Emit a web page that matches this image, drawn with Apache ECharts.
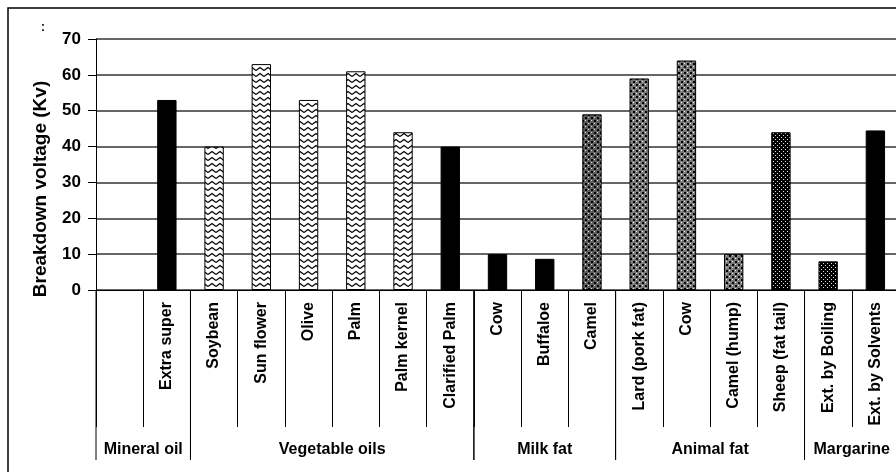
<!DOCTYPE html>
<html>
<head>
<meta charset="utf-8">
<script src="https://cdn.jsdelivr.net/npm/echarts@6/dist/echarts.min.js"></script>
<style>html,body{margin:0;padding:0;background:#fff;}#c{width:896px;height:472px;}</style>
</head>
<body>
<div id="c"></div>
<script>
// ---- data ----
var categories = ['', 'Extra super', 'Soybean', 'Sun flower', 'Olive', 'Palm', 'Palm kernel', 'Clarified Palm',
  'Cow', 'Buffaloe', 'Camel', 'Lard (pork fat)', 'Cow', 'Camel (hump)', 'Sheep (fat tail)',
  'Ext. by Boiling', 'Ext. by Solvents'];
var voltage = [null, 53, 40, 63, 53, 61, 44, 40, 10, 8.7, 49, 59, 64, 10, 44, 8, 44.5];
var fillKind = ['black', 'black', 'zigzag', 'zigzag', 'zigzag', 'zigzag', 'zigzag', 'black',
  'black', 'black', 'checkDark', 'check', 'check', 'check', 'dots', 'dots', 'black'];
var groupNames = ['Mineral oil', 'Vegetable oils', 'Milk fat', 'Animal fat', 'Margarine'];
var groupSizes = [2, 6, 3, 4, 2];
var yTicks = [0, 10, 20, 30, 40, 50, 60, 70];
var yTitle = 'Breakdown voltage (Kv)';

// ---- patterns ----
function makeTile(w, h, draw) {
  var c = document.createElement('canvas'); c.width = w; c.height = h;
  draw(c.getContext('2d')); return c;
}
var patterns = {
  zigzag: makeTile(8, 6, function (g) {
    g.fillStyle = '#fff'; g.fillRect(0, 0, 8, 6);
    g.strokeStyle = '#000'; g.lineWidth = 1.2;
    g.beginPath(); g.moveTo(0, 4.5); g.lineTo(4, 1.5); g.lineTo(8, 4.5); g.stroke();
  }),
  check: makeTile(6, 6, function (g) {
    g.fillStyle = '#7a7a7a'; g.fillRect(0, 0, 6, 6);
    g.fillStyle = '#000'; g.fillRect(0, 0, 2, 2); g.fillRect(3, 3, 2, 2);
    g.fillStyle = '#eee'; g.fillRect(3, 0, 1, 1); g.fillRect(0, 3, 1, 1);
  }),
  checkDark: makeTile(6, 6, function (g) {
    g.fillStyle = '#5e5e5e'; g.fillRect(0, 0, 6, 6);
    g.fillStyle = '#000'; g.fillRect(0, 0, 2, 2); g.fillRect(3, 3, 2, 2);
    g.fillStyle = '#ddd'; g.fillRect(3, 0, 1, 1); g.fillRect(0, 3, 1, 1);
  }),
  dots: makeTile(4, 4, function (g) {
    g.fillStyle = '#000'; g.fillRect(0, 0, 4, 4);
    g.fillStyle = '#ddd'; g.fillRect(1, 1, 1, 1); g.fillRect(3, 3, 1, 1);
  })
};
function fillFor(kind) {
  if (kind === 'black') return '#000';
  return { image: patterns[kind], repeat: 'repeat' };
}

var barData = voltage.map(function (v, i) {
  return { value: v, itemStyle: { color: fillFor(fillKind[i]), borderColor: '#000', borderWidth: 1 } };
});

var groupData = [];
var start = 0;
groupSizes.forEach(function (n, i) {
  groupData.push([start, 0, start + n - 1, i]);
  start += n;
});

var FONT = "'Liberation Sans', Arial, sans-serif";

var chart = echarts.init(document.getElementById('c'));
chart.setOption({
  animation: false,
  backgroundColor: '#fff',
  grid: { left: 96, top: 39, right: -3, bottom: 182, containLabel: false, outerBoundsMode: 'none' },
  xAxis: {
    type: 'category',
    data: categories,
    axisLine: { lineStyle: { color: '#000', width: 1 } },
    axisTick: { show: true, interval: 0, length: 137, lineStyle: { color: '#000', width: 1 } },
    axisLabel: { interval: 0, rotate: 90, margin: 12, color: '#000', fontFamily: FONT, fontWeight: 'bold', fontSize: 16 },
    splitLine: { show: false }
  },
  yAxis: {
    type: 'value',
    min: 0, max: 70, interval: 10,
    axisLine: { show: true, lineStyle: { color: '#000', width: 1 } },
    axisTick: { show: true, length: 8, lineStyle: { color: '#000' } },
    axisLabel: {
      margin: 15, color: '#000', fontFamily: FONT, fontWeight: 'bold', fontSize: 17,
      formatter: function (v) { return yTicks.indexOf(v) >= 0 ? String(v) : ''; }
    },
    splitLine: { show: true, lineStyle: { color: '#333', width: 1.5 } }
  },
  graphic: [
    { type: 'rect', shape: { x: 8, y: 8, width: 1200, height: 1200 }, style: { fill: 'none', stroke: '#000', lineWidth: 1.5 }, z: 100, silent: true },
    { type: 'text', x: 41, y: 189, rotation: Math.PI / 2,
      style: { text: yTitle, textAlign: 'center', textVerticalAlign: 'middle', font: 'bold 19px ' + FONT, fill: '#000' } },
    { type: 'text', x: 43, y: 28,
      style: { text: ':', textAlign: 'center', textVerticalAlign: 'middle', font: 'bold 12px ' + FONT, fill: '#000' } }
  ],
  series: [
    {
      type: 'bar',
      data: barData,
      barWidth: '41%',
      z: 3
    },
    {
      type: 'custom',
      clip: false,
      z: 5,
      data: groupData,
      encode: { x: 0, y: 1 },
      renderItem: function (params, api) {
        var band = api.size([1, 0])[0];
        var p0 = api.coord([api.value(0), 0]);
        var p1 = api.coord([api.value(2), 0]);
        var xs = p0[0] - band / 2;
        var xe = p1[0] + band / 2;
        var y0 = p0[1];
        var idx = api.value(3);
        return {
          type: 'group',
          children: [
            { type: 'line', shape: { x1: xs, y1: y0, x2: xs, y2: y0 + 170 }, style: { stroke: '#000', lineWidth: 1 } },
            { type: 'line', shape: { x1: xe, y1: y0, x2: xe, y2: y0 + 170 }, style: { stroke: '#000', lineWidth: 1 } },
            { type: 'text', x: (xs + xe) / 2, y: y0 + 160,
              style: { text: groupNames[idx], textAlign: 'center', textVerticalAlign: 'middle', font: 'bold 16px ' + FONT, fill: '#000' } }
          ]
        };
      }
    }
  ]
});
</script>
</body>
</html>
